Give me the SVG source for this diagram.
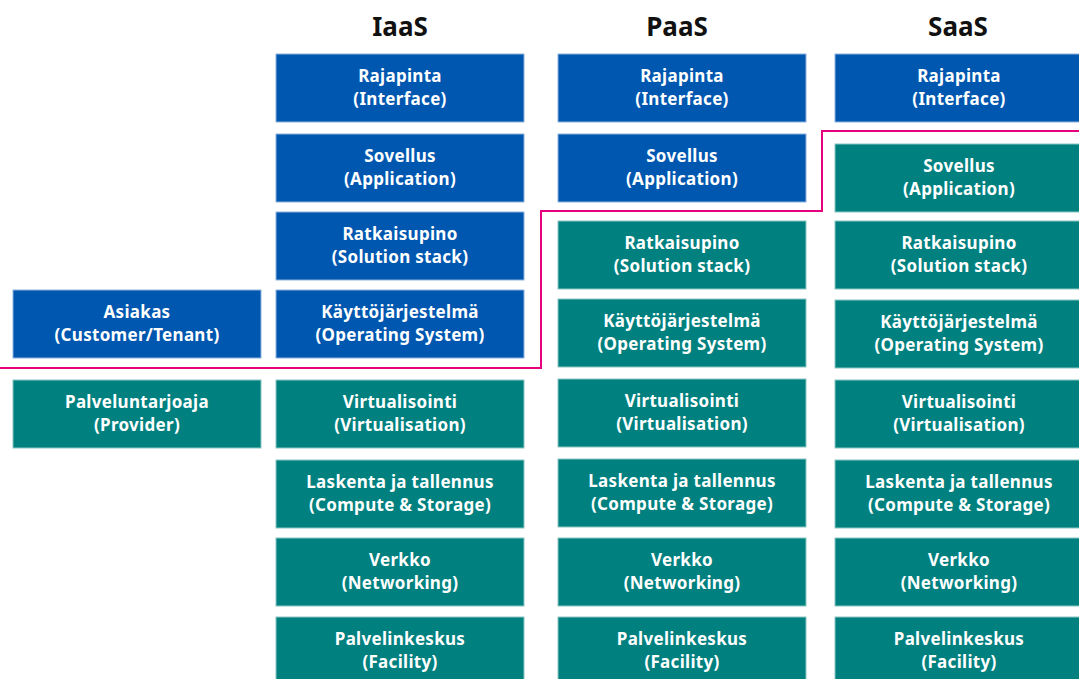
<svg xmlns="http://www.w3.org/2000/svg" width="1079" height="679" viewBox="0 0 1079 679">
  <style>
    .bg { fill: #ffffff; }
    .blue rect { fill: #0057B0; stroke: #8fb4de; stroke-width: 1; }
    .teal rect { fill: #00817F; stroke: #8cc6c4; stroke-width: 1; }
    .lbl { font-family: "Noto Sans", "DejaVu Sans", sans-serif; font-weight: 700; font-size: 17px; letter-spacing: 0.3px; fill: #ffffff; text-anchor: middle; }
    .hdr { font-family: "Noto Sans", "DejaVu Sans", sans-serif; font-weight: 700; font-size: 26px; fill: #111111; text-anchor: middle; }
    .boundary { fill: none; stroke: #E6007E; stroke-width: 2; }
  </style>
  <rect class="bg" x="0" y="0" width="1079" height="679"/>

  <!-- column headings -->
  <text class="hdr" x="400" y="36">IaaS</text>
  <text class="hdr" x="677" y="36">PaaS</text>
  <text class="hdr" x="958" y="36">SaaS</text>

  <!-- legend -->
  <g id="legend-customer" class="blue">
    <rect x="13" y="290" width="248" height="68"/>
    <text class="lbl" x="137" y="318">Asiakas</text>
    <text class="lbl" x="137" y="341">(Customer/Tenant)</text>
  </g>
  <g id="legend-provider" class="teal">
    <rect x="13" y="380" width="248" height="68"/>
    <text class="lbl" x="137" y="408">Palveluntarjoaja</text>
    <text class="lbl" x="137" y="431">(Provider)</text>
  </g>

  <!-- IaaS column -->
  <g id="iaas-interface" class="blue">
    <rect x="276" y="54" width="248" height="68"/>
    <text class="lbl" x="400" y="82">Rajapinta</text>
    <text class="lbl" x="400" y="105">(Interface)</text>
  </g>
  <g id="iaas-application" class="blue">
    <rect x="276" y="134" width="248" height="68"/>
    <text class="lbl" x="400" y="162">Sovellus</text>
    <text class="lbl" x="400" y="185">(Application)</text>
  </g>
  <g id="iaas-stack" class="blue">
    <rect x="276" y="212" width="248" height="68"/>
    <text class="lbl" x="400" y="240">Ratkaisupino</text>
    <text class="lbl" x="400" y="263">(Solution stack)</text>
  </g>
  <g id="iaas-os" class="blue">
    <rect x="276" y="290" width="248" height="68"/>
    <text class="lbl" x="400" y="318">Käyttöjärjestelmä</text>
    <text class="lbl" x="400" y="341">(Operating System)</text>
  </g>
  <g id="iaas-virtualisation" class="teal">
    <rect x="276" y="380" width="248" height="68"/>
    <text class="lbl" x="400" y="408">Virtualisointi</text>
    <text class="lbl" x="400" y="431">(Virtualisation)</text>
  </g>
  <g id="iaas-compute" class="teal">
    <rect x="276" y="460" width="248" height="68"/>
    <text class="lbl" x="400" y="488">Laskenta ja tallennus</text>
    <text class="lbl" x="400" y="511">(Compute &amp; Storage)</text>
  </g>
  <g id="iaas-network" class="teal">
    <rect x="276" y="538" width="248" height="68"/>
    <text class="lbl" x="400" y="566">Verkko</text>
    <text class="lbl" x="400" y="589">(Networking)</text>
  </g>
  <g id="iaas-facility" class="teal">
    <rect x="276" y="617" width="248" height="68"/>
    <text class="lbl" x="400" y="645">Palvelinkeskus</text>
    <text class="lbl" x="400" y="668">(Facility)</text>
  </g>

  <!-- PaaS column -->
  <g id="paas-interface" class="blue">
    <rect x="558" y="54" width="248" height="68"/>
    <text class="lbl" x="682" y="82">Rajapinta</text>
    <text class="lbl" x="682" y="105">(Interface)</text>
  </g>
  <g id="paas-application" class="blue">
    <rect x="558" y="134" width="248" height="68"/>
    <text class="lbl" x="682" y="162">Sovellus</text>
    <text class="lbl" x="682" y="185">(Application)</text>
  </g>
  <g id="paas-stack" class="teal">
    <rect x="558" y="221" width="248" height="68"/>
    <text class="lbl" x="682" y="249">Ratkaisupino</text>
    <text class="lbl" x="682" y="272">(Solution stack)</text>
  </g>
  <g id="paas-os" class="teal">
    <rect x="558" y="299" width="248" height="68"/>
    <text class="lbl" x="682" y="327">Käyttöjärjestelmä</text>
    <text class="lbl" x="682" y="350">(Operating System)</text>
  </g>
  <g id="paas-virtualisation" class="teal">
    <rect x="558" y="379" width="248" height="68"/>
    <text class="lbl" x="682" y="407">Virtualisointi</text>
    <text class="lbl" x="682" y="430">(Virtualisation)</text>
  </g>
  <g id="paas-compute" class="teal">
    <rect x="558" y="459" width="248" height="68"/>
    <text class="lbl" x="682" y="487">Laskenta ja tallennus</text>
    <text class="lbl" x="682" y="510">(Compute &amp; Storage)</text>
  </g>
  <g id="paas-network" class="teal">
    <rect x="558" y="538" width="248" height="68"/>
    <text class="lbl" x="682" y="566">Verkko</text>
    <text class="lbl" x="682" y="589">(Networking)</text>
  </g>
  <g id="paas-facility" class="teal">
    <rect x="558" y="617" width="248" height="68"/>
    <text class="lbl" x="682" y="645">Palvelinkeskus</text>
    <text class="lbl" x="682" y="668">(Facility)</text>
  </g>

  <!-- SaaS column -->
  <g id="saas-interface" class="blue">
    <rect x="835" y="54" width="248" height="68"/>
    <text class="lbl" x="959" y="82">Rajapinta</text>
    <text class="lbl" x="959" y="105">(Interface)</text>
  </g>
  <g id="saas-application" class="teal">
    <rect x="835" y="144" width="248" height="68"/>
    <text class="lbl" x="959" y="172">Sovellus</text>
    <text class="lbl" x="959" y="195">(Application)</text>
  </g>
  <g id="saas-stack" class="teal">
    <rect x="835" y="221" width="248" height="68"/>
    <text class="lbl" x="959" y="249">Ratkaisupino</text>
    <text class="lbl" x="959" y="272">(Solution stack)</text>
  </g>
  <g id="saas-os" class="teal">
    <rect x="835" y="300" width="248" height="68"/>
    <text class="lbl" x="959" y="328">Käyttöjärjestelmä</text>
    <text class="lbl" x="959" y="351">(Operating System)</text>
  </g>
  <g id="saas-virtualisation" class="teal">
    <rect x="835" y="380" width="248" height="68"/>
    <text class="lbl" x="959" y="408">Virtualisointi</text>
    <text class="lbl" x="959" y="431">(Virtualisation)</text>
  </g>
  <g id="saas-compute" class="teal">
    <rect x="835" y="460" width="248" height="68"/>
    <text class="lbl" x="959" y="488">Laskenta ja tallennus</text>
    <text class="lbl" x="959" y="511">(Compute &amp; Storage)</text>
  </g>
  <g id="saas-network" class="teal">
    <rect x="835" y="538" width="248" height="68"/>
    <text class="lbl" x="959" y="566">Verkko</text>
    <text class="lbl" x="959" y="589">(Networking)</text>
  </g>
  <g id="saas-facility" class="teal">
    <rect x="835" y="617" width="248" height="68"/>
    <text class="lbl" x="959" y="645">Palvelinkeskus</text>
    <text class="lbl" x="959" y="668">(Facility)</text>
  </g>

  <!-- responsibility boundary -->
  <g id="connectors">
    <polyline class="boundary" points="0,368 541,368 541,211 822,211 822,131 1079,131"/>
  </g>
</svg>
